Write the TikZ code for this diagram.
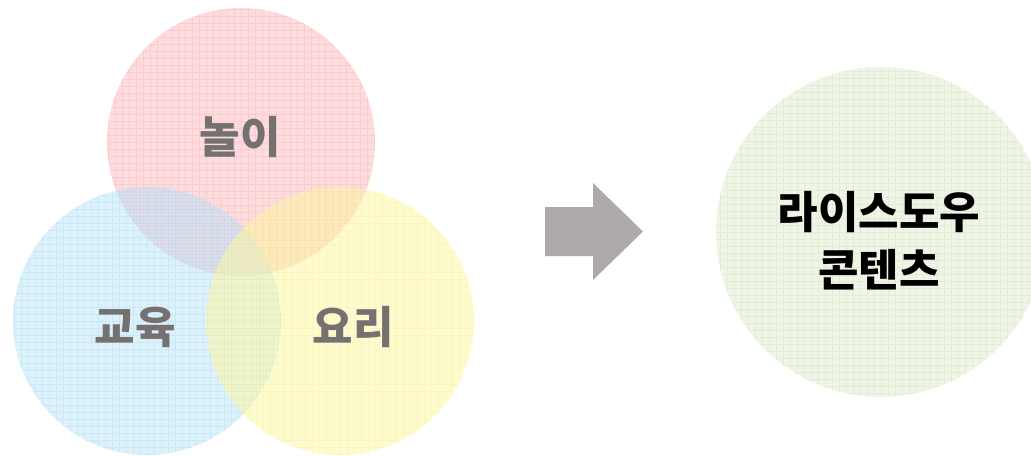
\documentclass[tikz,border=0pt]{standalone}
\usepackage{fontspec}
\newfontfamily\kr{Noto Sans CJK KR}
\definecolor{pinkc}{HTML}{FCB9BE}
\definecolor{bluec}{HTML}{BBE3F8}
\definecolor{yellowc}{HTML}{FDF8A3}
\definecolor{greenc}{HTML}{D6E8C6}
\definecolor{pinkg}{HTML}{F59AA2}
\definecolor{blueg}{HTML}{8FCFF0}
\definecolor{yellowg}{HTML}{F2EA70}
\definecolor{greeng}{HTML}{B9D69E}
\definecolor{labgray}{HTML}{767171}
\definecolor{arrowgray}{HTML}{AEAAAA}
\begin{document}
\begin{tikzpicture}[x=0.75pt,y=-0.75pt,
  venn/.style={circle, inner sep=0pt, minimum size=#1*0.75pt, fill opacity=0.5, text opacity=1},
  gridded/.style={path picture={\draw[#1, line width=0.5pt, opacity=0.25, step=5.25pt] (path picture bounding box.south west) grid (path picture bounding box.north east);}},
  lab/.style={font=\kr\bfseries\fontsize{33}{40}\selectfont, text=labgray},
  biglab/.style={font=\kr\bfseries\fontsize{33}{43.5}\selectfont, text=black, align=center}]
\useasboundingbox (0,0) rectangle (1031,455);
\begin{scope}
\clip (0,0) rectangle (1031,455);
\node[venn=268, fill=pinkc, gridded=pinkg] (play) at (241,142) {};
\node[venn=268, fill=bluec, gridded=blueg] (edu) at (147,321) {};
\node[venn=268, fill=yellowc, gridded=yellowg] (cook) at (340,321) {};
\node[venn=330, fill=greenc, fill opacity=0.4, gridded=greeng] (rice) at (881,232) {};
\end{scope}
\node[lab] (tplay) at (240,137) {놀이};
\node[lab] (tedu) at (135,327) {교육};
\node[lab] (tcook) at (353,327) {요리};
\node[biglab] (trice) at (879,241) {라이스도우\\콘텐츠};
\fill[arrowgray] (545,207) -- (593,207) -- (593,183) -- (643,231.5) -- (593,280) -- (593,256) -- (545,256) -- cycle;
\end{tikzpicture}
\end{document}
